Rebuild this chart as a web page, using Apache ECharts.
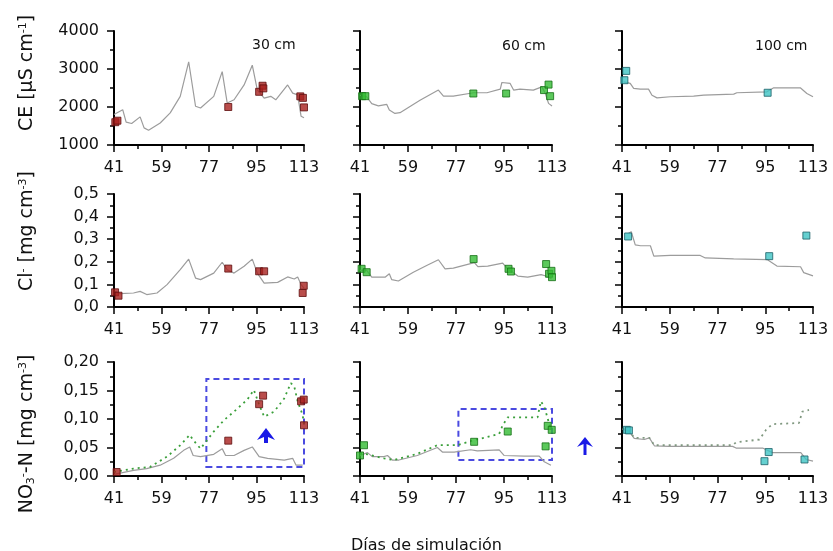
<!DOCTYPE html>
<html>
<head>
<meta charset="utf-8">
<script src="https://cdn.jsdelivr.net/npm/echarts@6/dist/echarts.min.js"></script>
<style>
  html, body { margin: 0; padding: 0; background: #fff; }
  #chart { width: 833px; height: 551px; }
</style>
</head>
<body>
<div id="chart"></div>
<script>
// días de simulación, primer día del eje
var DAY0 = 41;
var xTicks = [41, 59, 77, 95, 113];

// CE [uS/cm]  -- simulado / observado
var ce30Sim = [[41,1800],[44.3,1930],[45.6,1600],[47.7,1565],[50.9,1740],[52.4,1450],[54.1,1390],[58.5,1580],[62.3,1845],[66.1,2280],[69.3,3190],[71.9,2020],[73.8,1975],[78.8,2280],[82,2930],[83.9,2105],[86.5,2190],[90.3,2580],[93.4,3100],[95.3,2450],[97.9,2235],[100.4,2280],[102.3,2190],[106.8,2580],[108.7,2365],[110.6,2320],[111.9,1755],[113,1715]];
var ce30Obs = [[41.5,1600],[42.3,1640],[84.3,2000],[96,2400],[97.3,2560],[97.6,2490],[111.6,2280],[112.6,2240],[113,1990]];
var ce60Sim = [[41,2310],[43.5,2270],[45.4,2090],[47.9,2030],[51,2070],[52,1920],[54.1,1830],[56,1850],[63.5,2180],[70.4,2445],[72.3,2285],[76,2285],[83.6,2375],[88.6,2375],[93.6,2470],[94.2,2645],[97.3,2620],[98.6,2445],[101,2470],[106,2445],[109.2,2530],[110.5,2355],[111.7,2095],[113,2025]];
var ce60Obs = [[41.8,2285],[43,2285],[83.5,2355],[95.8,2355],[110,2445],[111.7,2590],[112.3,2285]];
var ce100Sim = [[41.6,2660],[44.1,2620],[45.4,2490],[47.9,2470],[51,2470],[52.3,2310],[54.2,2240],[59.2,2270],[68,2285],[71.8,2310],[83.1,2340],[84.3,2375],[95.6,2400],[98.2,2505],[108.2,2505],[110.7,2355],[113,2270]];
var ce100Obs = [[41.9,2705],[42.6,2950],[95.9,2375]];

// Cl- [mg/cm3]
var cl30Sim = [[41.4,0.069],[43.3,0.059],[48.4,0.062],[50.9,0.069],[53.4,0.055],[57.3,0.062],[61.1,0.099],[66.1,0.165],[69.3,0.212],[71.9,0.128],[73.8,0.121],[78.8,0.150],[82,0.198],[83.9,0.165],[86.5,0.150],[90.3,0.180],[93.4,0.212],[95.3,0.150],[97.9,0.106],[103,0.109],[106.8,0.133],[109.3,0.124],[110.6,0.133],[111.9,0.099],[113,0.084]];
var cl30Obs = [[41.4,0.065],[42.7,0.05],[84.3,0.17],[96,0.158],[97.9,0.158],[112.5,0.062],[112.9,0.094]];
var cl60Sim = [[41,0.162],[43.5,0.162],[45.4,0.132],[50.4,0.132],[52,0.147],[52.9,0.121],[55.4,0.115],[61,0.154],[66,0.184],[70.4,0.209],[72.9,0.169],[76,0.172],[83.9,0.196],[85.2,0.179],[88.9,0.181],[94.5,0.194],[96.4,0.169],[100.2,0.137],[103.9,0.132],[108.9,0.143],[110.8,0.137],[112.8,0.125]];
var cl60Obs = [[41.6,0.169],[43.5,0.154],[83.6,0.212],[96.7,0.169],[97.6,0.157],[110.8,0.190],[111.9,0.147],[112.8,0.160],[113,0.132]];
var cl100Sim = [[43.5,0.326],[44.5,0.333],[46,0.275],[48,0.271],[51.7,0.271],[53,0.225],[59.2,0.228],[70.5,0.228],[72.4,0.217],[83.1,0.213],[95.7,0.210],[99.4,0.181],[108.3,0.178],[109.5,0.152],[113,0.138]];
var cl100Obs = [[43.3,0.312],[96.5,0.225],[110.5,0.316]];

// NO3--N [mg/cm3]  -- simulado, simulado (punteado), observado
var no30Sim = [[41,0.003],[48.4,0.010],[53.4,0.013],[58.5,0.019],[63.6,0.031],[67.4,0.045],[69.7,0.051],[71,0.036],[73.8,0.034],[78.8,0.038],[82,0.048],[83.3,0.036],[86.5,0.036],[90.3,0.045],[93.4,0.051],[96,0.034],[99.2,0.031],[105.5,0.028],[108.7,0.031],[110,0.019],[112.5,0.019]];
var no30Alt = [[41,0.007],[48.4,0.013],[54.7,0.016],[61.1,0.034],[66.1,0.054],[69.7,0.072],[71,0.063],[73.8,0.048],[78.8,0.078],[82.7,0.098],[86.5,0.113],[91.5,0.134],[94,0.151],[96,0.125],[97.9,0.104],[101.7,0.113],[105.5,0.136],[108,0.163],[109.3,0.157],[110.6,0.131],[112.5,0.107],[113,0.089]];
var no30Obs = [[42,0.007],[84.3,0.062],[96,0.126],[97.5,0.141],[111.9,0.131],[112.9,0.134],[113,0.089]];
var no60Sim = [[41,0.036],[43.8,0.041],[45.6,0.034],[50,0.034],[51.3,0.036],[53.1,0.028],[55.6,0.028],[62.5,0.036],[70,0.050],[71.9,0.042],[76.3,0.042],[82.5,0.046],[85,0.044],[93.2,0.046],[95,0.036],[102.6,0.035],[108.2,0.035],[110.1,0.025],[112.6,0.019]];
var no60Alt = [[41,0.039],[43.8,0.038],[50,0.031],[53.8,0.028],[62.5,0.039],[70,0.054],[77.5,0.054],[83.8,0.063],[87.6,0.067],[93.2,0.074],[94.5,0.089],[96.4,0.103],[107.6,0.103],[108.8,0.131],[110.1,0.122],[112.6,0.081]];
var no60Obs = [[41,0.036],[42.5,0.054],[83.8,0.060],[96.4,0.078],[110.6,0.052],[111.4,0.088],[112.9,0.081]];
var no100Sim = [[41.2,0.082],[43.8,0.078],[45.6,0.066],[49.4,0.064],[51.3,0.067],[53.2,0.053],[58.8,0.052],[71.4,0.052],[82.7,0.052],[84,0.049],[94,0.049],[97.7,0.041],[108.4,0.041],[110.4,0.029],[113,0.026]];
var no100Alt = [[41.2,0.083],[43.8,0.079],[45.6,0.067],[51.3,0.067],[53.2,0.054],[58.8,0.054],[82.7,0.054],[84,0.059],[92.8,0.064],[95.3,0.081],[97.7,0.091],[107.7,0.093],[109,0.113],[111.5,0.116]];
var no100Obs = [[42.8,0.081],[43.6,0.080],[94.7,0.026],[96.3,0.042],[109.8,0.029]];

// recuadros discontinuos (días, valor)
var box30 = [[76,0.016],[113,0.170]];
var box60 = [[77.9,0.028],[113,0.1175]];

var depths = ['30 cm', '60 cm', '100 cm'];
var rowTitles = [
  '{m|CE [µS cm}{s|-1}{m|]}',
  '{m|Cl}{s|-}{m| [mg cm}{s|-3}{m|]}',
  '{m|NO}{b|3}{s|-}{m|-N [mg cm}{s|-3}{m|]}'
];

var FONT = 'DejaVu Sans';
var colLeft = [114, 360, 622], colW = [190, 192, 191];
var rowTop = [31, 194, 362], rowH = [114, 113, 114];
var titleY = [73, 231, 434];

var rowAxis = [
  {min: 1000, max: 4000, interval: 1000, fmt: function (v) { return String(v); }},
  {min: 0, max: 0.5, interval: 0.1, fmt: function (v) { return v.toFixed(1).replace('.', ','); }},
  {min: 0, max: 0.2, interval: 0.05, fmt: function (v) { return v.toFixed(2).replace('.', ','); }}
];

var sims = [[ce30Sim, ce60Sim, ce100Sim], [cl30Sim, cl60Sim, cl100Sim], [no30Sim, no60Sim, no100Sim]];
var obs = [[ce30Obs, ce60Obs, ce100Obs], [cl30Obs, cl60Obs, cl100Obs], [no30Obs, no60Obs, no100Obs]];
var alts = [no30Alt, no60Alt, no100Alt];
var boxes = [box30, box60, null];

var obsColor = ['#a8201e', '#33bb33', '#3fc4c4'];
var obsBorder = ['#5e0e0e', '#146e14', '#1b5f66'];
var altColor = ['#3a9f3a', '#3a9f3a', '#809880'];

function shift(arr) {
  return arr.map(function (p) { return [p[0] - DAY0, p[1]]; });
}

var grid = [], xAxis = [], yAxis = [], series = [];
for (var r = 0; r < 3; r++) {
  for (var c = 0; c < 3; c++) {
    var i = r * 3 + c;
    var ra = rowAxis[r];
    grid.push({left: colLeft[c], top: rowTop[r], width: colW[c], height: rowH[r]});
    xAxis.push({
      type: 'value', gridIndex: i, min: 0, max: xTicks[4] - DAY0, interval: 18,
      axisLine: {onZero: false, lineStyle: {color: '#000', width: 2}},
      axisTick: {length: 7, lineStyle: {color: '#000', width: 1.5}},
      minorTick: {show: true, splitNumber: 2, length: 4, lineStyle: {color: '#000', width: 1.5}},
      splitLine: {show: false},
      axisLabel: {fontFamily: FONT, fontSize: 16, color: '#111', margin: 15,
        formatter: function (v) { return String(v + DAY0); }}
    });
    yAxis.push({
      type: 'value', gridIndex: i, min: ra.min, max: ra.max, interval: ra.interval,
      axisLine: {onZero: false, lineStyle: {color: '#000', width: 2}},
      axisTick: {length: 7, lineStyle: {color: '#000', width: 1.5}},
      minorTick: {show: true, splitNumber: 2, length: 4, lineStyle: {color: '#000', width: 1.5}},
      splitLine: {show: false},
      axisLabel: {show: c === 0, fontFamily: FONT, fontSize: 16, color: '#111', margin: 15,
        formatter: ra.fmt}
    });

    series.push({
      type: 'line', xAxisIndex: i, yAxisIndex: i, data: shift(sims[r][c]),
      symbol: 'none', silent: true, animation: false,
      lineStyle: {color: '#9c9c9c', width: 1.2}
    });
    if (r === 2) {
      var alt = {
        type: 'line', xAxisIndex: i, yAxisIndex: i, data: shift(alts[c]),
        symbol: 'none', silent: true, animation: false,
        lineStyle: {color: altColor[c], width: 1.8, type: [2, 4]}
      };
      if (boxes[c]) {
        alt.markArea = {
          silent: true,
          itemStyle: {color: 'rgba(0,0,0,0)', borderColor: '#4a4ae0', borderWidth: 2, borderType: [6, 4]},
          data: [[{coord: [boxes[c][0][0] - DAY0, boxes[c][0][1]]},
                  {coord: [boxes[c][1][0] - DAY0, boxes[c][1][1]]}]]
        };
      }
      series.push(alt);
    }
    series.push({
      type: 'scatter', xAxisIndex: i, yAxisIndex: i, data: shift(obs[r][c]),
      symbol: 'rect', symbolSize: 7, silent: true, animation: false, z: 5,
      itemStyle: {color: obsColor[c], borderColor: obsBorder[c], borderWidth: 1}
    });
  }
}

var richT = {
  m: {fontFamily: FONT, fontSize: 19, fill: '#111'},
  s: {fontFamily: FONT, fontSize: 11, fill: '#111', verticalAlign: 'top'},
  b: {fontFamily: FONT, fontSize: 11, fill: '#111', verticalAlign: 'bottom'}
};
var graphics = rowTitles.map(function (t, k) {
  return {type: 'text', x: 27, y: titleY[k], rotation: Math.PI / 2,
    style: {text: t, rich: richT, align: 'center', verticalAlign: 'middle'}};
});
graphics.push(
  {type: 'polygon', shape: {points: [[266,428],[275,440],[268,437],[268,443],[264,443],[264,437],[257,440]]},
   style: {fill: '#1a1ae6'}},
  {type: 'polygon', shape: {points: [[585,437],[593,447],[586.5,444],[586.5,455],[583.5,455],[583.5,444],[577,447]]},
   style: {fill: '#1a1ae6'}}
);

var chart = echarts.init(document.getElementById('chart'), null, {renderer: 'canvas'});
chart.setOption({
  backgroundColor: '#fff',
  animation: false,
  title: [
    {text: depths[0], left: 247, top: 33, textStyle: {fontFamily: FONT, fontSize: 14, fontWeight: 'normal', color: '#111'}},
    {text: depths[1], left: 497, top: 34, textStyle: {fontFamily: FONT, fontSize: 14, fontWeight: 'normal', color: '#111'}},
    {text: depths[2], left: 750, top: 34, textStyle: {fontFamily: FONT, fontSize: 14, fontWeight: 'normal', color: '#111'}},
    {text: 'Días de simulación', left: 346, top: 533, textStyle: {fontFamily: FONT, fontSize: 16, fontWeight: 'normal', color: '#111'}}
  ],
  grid: grid,
  xAxis: xAxis,
  yAxis: yAxis,
  series: series,
  graphic: graphics
});
</script>
</body>
</html>
